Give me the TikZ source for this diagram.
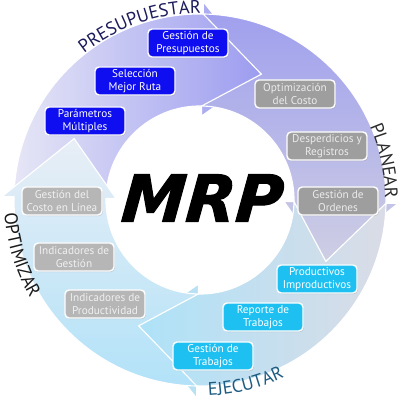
\documentclass[tikz,border=0pt]{standalone}
\usepackage{fontspec}
\setmainfont{PT Sans}
\newfontfamily\mrpfont{DejaVu Sans}[BoldItalicFeatures={FakeBold=1.6, FakeSlant=0.08}]
\usepackage{tikz}
\usetikzlibrary{decorations.text,shadows}
\definecolor{boxblue}{RGB}{14,14,240}
\definecolor{boxgray}{RGB}{158,158,158}
\definecolor{boxgraylt}{RGB}{182,182,182}
\definecolor{boxcyan}{RGB}{30,192,242}
\definecolor{presL}{RGB}{230,230,246}
\definecolor{presR}{RGB}{156,156,240}
\definecolor{planT}{RGB}{160,160,238}
\definecolor{planB}{RGB}{206,206,228}
\definecolor{ejecL}{RGB}{174,226,248}
\definecolor{ejecR}{RGB}{218,220,230}
\definecolor{optT}{RGB}{232,238,246}
\definecolor{optB}{RGB}{178,226,248}
\definecolor{presc}{RGB}{28,28,92}
\definecolor{planc}{RGB}{44,44,44}
\definecolor{ejecc}{RGB}{30,92,130}
\definecolor{optc}{RGB}{26,26,26}
\tikzstyle{tarea} = [rectangle, rounded corners=3pt, minimum width=2cm, minimum height=0.7cm, draw=white, line width=1pt, inner sep=1pt, align=center, font=\fontsize{8}{9.2}\selectfont, drop shadow={shadow xshift=0.6pt, shadow yshift=-0.8pt, opacity=0.3}]
\tikzstyle{presbox} = [tarea, fill=boxblue, text=white]
\tikzstyle{planbox} = [tarea, fill=boxgray, text=white!92!black]
\tikzstyle{ejecbox} = [tarea, fill=boxcyan, text=white]
\tikzstyle{optbox} = [tarea, fill=boxgraylt, text=white!94!black]
\tikzstyle{arrpres} = [left color=presL, right color=presR, draw=white, line width=0.8pt]
\tikzstyle{arrplan} = [top color=planT, bottom color=planB, draw=white, line width=0.8pt]
\tikzstyle{arrejec} = [left color=ejecL, right color=ejecR, draw=white, line width=0.8pt]
\tikzstyle{arroptim} = [top color=optT, bottom color=optB, draw=white, line width=0.8pt]
\newcommand{\arclabel}{\fontsize{13}{13}\selectfont}

\begin{document}
\begin{tikzpicture}[x=0.025cm, y=0.025cm]
\fill[white] (-200,-200) rectangle (200,200);
\useasboundingbox (-200,-200) rectangle (200,200);
% ring of four arrows
\foreach \s/\b/\sty in {179/89/arrpres, 89/-1/arrplan, -1/-91/arrejec, -91/-181/arroptim}
  \path[\sty] (\s:186) -- ({\s-25}:140) -- (\s:94)
    arc[start angle=\s, end angle=\b, radius=2.35cm] -- (\b:84) -- ({\b-25}:140)
    -- (\b:198) -- (\b:186) arc[start angle=\b, end angle=\s, radius=4.65cm] -- cycle;
% titles
\path[decorate, decoration={text along path, text align=center,
  text={|\arclabel\color{presc}|PRESUPUESTAR}}]
  (140:187) arc[start angle=140, end angle=78, radius=4.675cm];
\path[decorate, decoration={text along path, text align=center,
  text={|\arclabel\color{planc}|PLANEAR}}]
  (40:185) arc[start angle=40, end angle=-16, radius=4.625cm];
\path[decorate, decoration={text along path, text align=center,
  text={|\arclabel\color{ejecc}|EJECUTAR}}]
  (-105:196) arc[start angle=-105, end angle=-47, radius=4.9cm];
\path[decorate, decoration={text along path, text align=center,
  text={|\arclabel\color{optc}|OPTIMIZAR}}]
  (168:196) arc[start angle=168, end angle=226, radius=4.9cm];
% centre
\node (mrp) at (1,2) {\mrpfont\bfseries\itshape\fontsize{46}{46}\selectfont MRP};
% boxes
\node (gpres) [presbox] at (-12,157) {Gestión de\\Presupuestos};
\node (selruta) [presbox] at (-65,119) {Selección\\Mejor Ruta};
\node (parmult) [presbox] at (-115,79) {Parámetros\\Múltiples};
\node (optcosto) [planbox] at (95,106) {Optimización\\del Costo};
\node (desperd) [planbox] at (127,54) {Desperdicios y\\Registros};
\node (gordenes) [planbox] at (138,-1) {Gestión de\\Ordenes};
\node (prodimp) [ejecbox] at (117,-79) {Productivos\\Improductivos};
\node (reptrab) [ejecbox] at (63,-117) {Reporte de\\Trabajos};
\node (gtrab) [ejecbox] at (13,-156) {Gestión de\\Trabajos};
\node (gcosto) [optbox] at (-138,-1) {Gestión del\\Costo en Línea};
\node (indgest) [optbox] at (-126,-57) {Indicadores de\\Gestión};
\node (indprod) [optbox] at (-95,-104) {Indicadores de\\Productividad};
\end{tikzpicture}
\end{document}
